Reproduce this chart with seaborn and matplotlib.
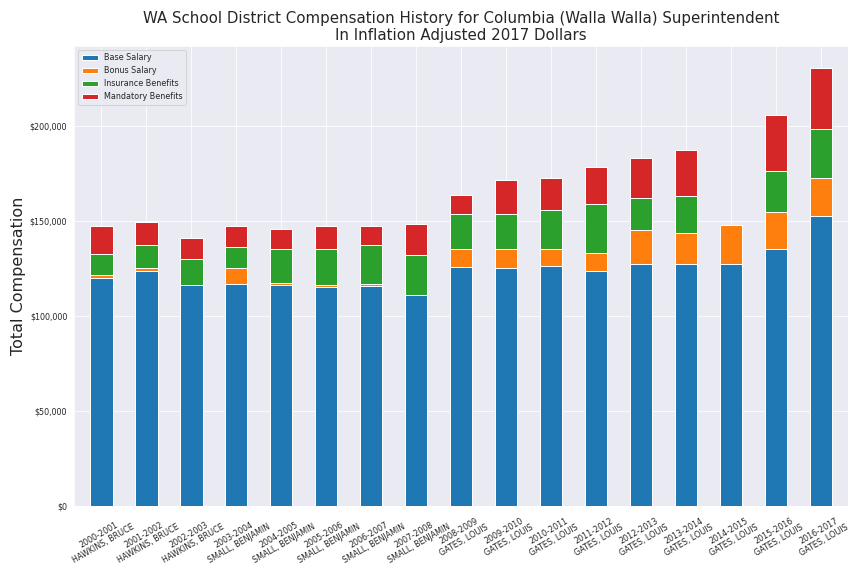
import matplotlib
matplotlib.use("Agg")
import matplotlib.pyplot as plt
import seaborn as sns
import numpy as np
import pandas as pd
from matplotlib.ticker import FuncFormatter

years = ["2000-2001","2001-2002","2002-2003","2003-2004","2004-2005","2005-2006","2006-2007","2007-2008",
         "2008-2009","2009-2010","2010-2011","2011-2012","2012-2013","2013-2014","2014-2015","2015-2016","2016-2017"]
names = ["HAWKINS, BRUCE"]*3 + ["SMALL, BENJAMIN"]*5 + ["GATES, LOUIS"]*9
base = [120.0,123.7,116.3,116.8,116.3,115.2,115.7,110.9,126.1,125.5,126.6,123.9,127.7,127.7,127.7,135.1,152.7]
bonus = [1.6,1.6,0.0,8.5,1.0,1.1,1.1,0.0,9.0,9.6,8.5,9.1,17.5,15.9,20.2,19.7,20.2]
insurance = [11.2,12.3,13.8,11.2,18.2,19.2,20.8,21.4,18.6,18.6,20.8,26.0,17.0,19.7,0.0,21.8,25.5]
mandatory = [14.4,11.7,11.2,10.7,10.6,11.7,10.1,16.0,10.1,18.1,17.0,19.7,20.8,23.9,0.0,29.3,31.9]

sns.set_style("darkgrid")
fig, ax = plt.subplots(figsize=(12, 8), dpi=72)
x = np.arange(len(years))
series = [("Base Salary", base, "#1f77b4"), ("Bonus Salary", bonus, "#ff7f0e"),
          ("Insurance Benefits", insurance, "#2ca02c"), ("Mandatory Benefits", mandatory, "#d62728")]
bottom = np.zeros(len(years))
for lab, vals, c in series:
    v = np.array(vals) * 1000
    ax.bar(x, v, 0.5, bottom=bottom, color=c, label=lab)
    bottom += v
ax.set_xticks(x)
ax.set_xticklabels([f"{y}\n{n}" for y, n in zip(years, names)], rotation=30, fontsize=8)
ax.yaxis.set_major_formatter(FuncFormatter(lambda v, p: f"${v:,.0f}"))
ax.tick_params(axis='y', labelsize=8)
ax.set_xlim(-0.6, len(years) - 0.4)
ax.set_ylim(0, 242000)
ax.set_ylabel("Total Compensation", fontsize=16)
ax.set_title("WA School District Compensation History for Columbia (Walla Walla) Superintendent\nIn Inflation Adjusted 2017 Dollars", fontsize=15)
ax.legend(loc="upper left", fontsize=8)
plt.tight_layout()
fig.savefig("out.png", dpi=72)
